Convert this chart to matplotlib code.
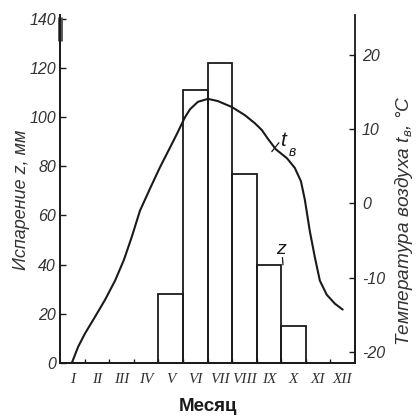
import numpy as np
import matplotlib
matplotlib.use("Agg")
import matplotlib.pyplot as plt

# data
months = ["I", "II", "III", "IV", "V", "VI", "VII", "VIII", "IX", "X", "XI", "XII"]
evap_months = [5, 6, 7, 8, 9, 10]          # V..X
evap_mm = [28, 111, 122, 77, 40, 15]       # z, mm

# air temperature curve t_v: position in months (I = 1) and degC
temp_pos = [0.98, 1.24, 1.52, 1.92, 2.33, 2.74, 3.10, 3.43, 3.75, 4.16, 4.57,
            4.97, 5.26, 5.58, 5.79, 6.11, 6.52, 6.92, 7.49, 8.02, 8.43, 8.71,
            8.96, 9.28, 9.73, 10.05, 10.30, 10.46, 10.66, 10.87, 11.07, 11.35,
            11.68, 12.00]
temp_c = [-21.5, -19.3, -17.5, -15.3, -13.0, -10.4, -7.6, -4.4, -1.0, 2.0, 4.9,
          7.5, 9.4, 11.6, 12.7, 13.7, 14.1, 13.8, 13.0, 11.9, 10.8, 9.9,
          8.7, 7.3, 6.1, 4.8, 3.0, 0.5, -3.7, -7.3, -10.4, -12.3,
          -13.5, -14.3]

left_ticks = [0, 20, 40, 60, 80, 100, 120, 140]
right_ticks = [-20, -10, 0, 10, 20]

plt.rcParams["font.family"] = ["Liberation Sans", "DejaVu Sans"]
plt.rcParams["mathtext.fontset"] = "custom"
plt.rcParams["mathtext.it"] = "Liberation Sans:italic"
plt.rcParams["mathtext.rm"] = "Liberation Sans"

fig = plt.figure(figsize=(4.18, 4.17), dpi=100)
ax = fig.add_axes([60 / 418, 54 / 417, 295 / 418, 348 / 417])
ax2 = ax.twinx()

ink = "#1a1a1a"
grey = "#333333"

# evaporation bars
ax.bar(evap_months, evap_mm, width=1.0, fill=False, edgecolor=ink, linewidth=1.3)

# temperature curve on right axis
ax2.plot(temp_pos, temp_c, color=ink, linewidth=1.5, solid_capstyle="round",
         solid_joinstyle="round")

ax.set_xlim(0.5, 12.5)
ax.set_ylim(0, 141.5)
ax2.set_ylim(-21.5, 25.4)

for a in (ax, ax2):
    a.spines["top"].set_visible(False)
    for s in ("left", "right", "bottom"):
        a.spines[s].set_color(ink)
        a.spines[s].set_linewidth(1.3)
ax2.spines["right"].set_bounds(-21.5, 20)

# x axis: ticks at month borders, labels at month centres
ax.set_xticks(np.arange(1.5, 12.5, 1.0))
ax.set_xticklabels([])
ax.tick_params(axis="x", which="major", direction="in", length=3, width=1, color=ink)
ax.set_xticks(np.arange(1, 13), minor=True)
ax.set_xticklabels(months, minor=True, fontsize=11, style="italic",
                   family=["Liberation Serif", "DejaVu Serif"], color=grey)
ax.tick_params(axis="x", which="minor", length=0, pad=7)

ax.set_yticks(left_ticks)
ax.set_yticklabels([str(v) for v in left_ticks], fontsize=11.5, style="italic", color=grey)
ax.tick_params(axis="y", direction="in", length=4, width=1, color=ink, pad=3)

ax2.set_yticks(right_ticks)
ax2.set_yticklabels([str(v) for v in right_ticks], fontsize=11.5, style="italic", color=grey)
ax2.tick_params(axis="y", direction="in", length=4, width=1, color=ink, pad=5)

ax.set_ylabel("Испарение z, мм", fontsize=13, style="italic", color=grey)
ax.yaxis.set_label_coords(-0.102, 0.468)
ax2.set_ylabel(r"Температура воздуха $t_в$, °C", fontsize=13.7, style="italic", color=grey)
ax2.yaxis.set_label_coords(1.13, 0.41)
ax.set_xlabel("Месяц", fontsize=13.5, fontweight="bold", color=ink, labelpad=9)

# curve and bar labels with short leaders
ax.plot([9.12, 9.4], [86.0, 89.5], color=ink, linewidth=0.9)
ax.text(9.45, 86.5, "t", fontsize=15, style="italic", color=ink, ha="left", va="bottom")
ax.text(9.82, 83.0, "в", fontsize=10, style="italic", color=ink, ha="left", va="bottom")
ax.plot([9.55, 9.57], [42.8, 40.0], color=ink, linewidth=0.9)
ax.text(9.48, 42.5, "z", fontsize=14, style="italic", color=ink, ha="center", va="bottom")

# dark mark at the top of the left axis (scan artefact)
ax.plot([0.52, 0.52], [131, 140.5], color="#555555", linewidth=3.5, solid_capstyle="butt",
        clip_on=False)

fig.savefig("out.png", dpi=100)
